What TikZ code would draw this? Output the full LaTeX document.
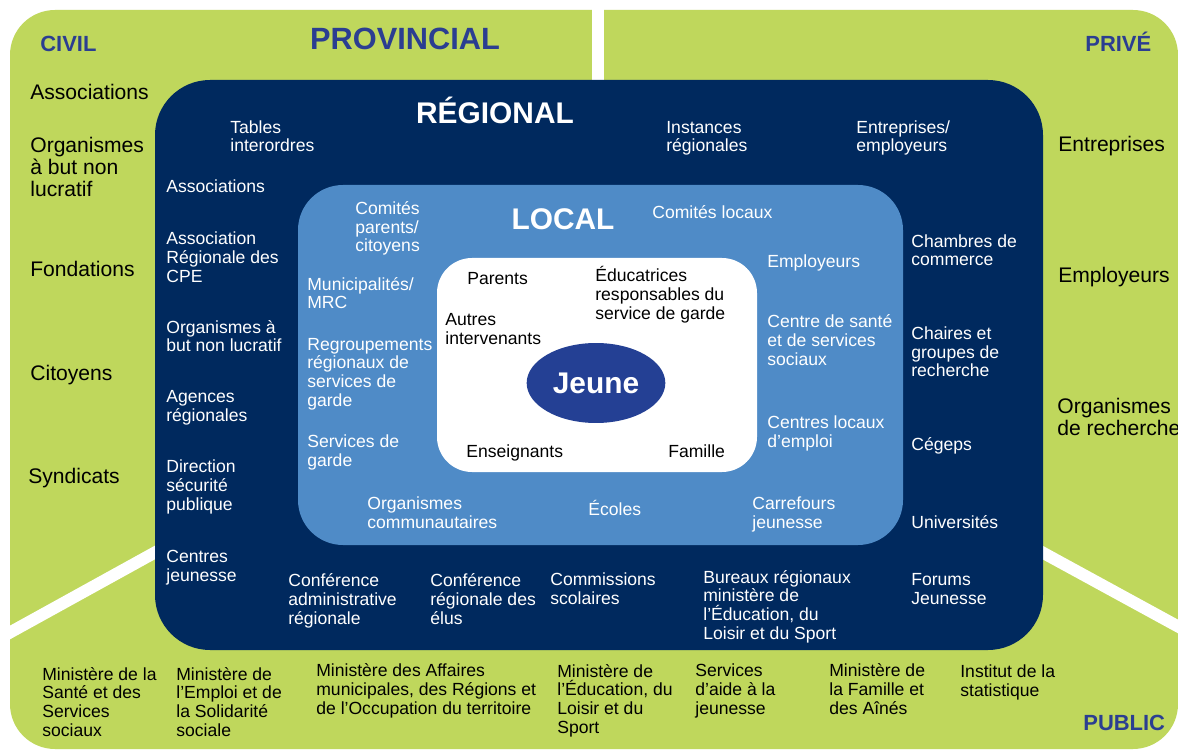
\documentclass[tikz,border=0pt]{standalone}
\usepackage{fontspec}
\setmainfont{Liberation Sans}
\usetikzlibrary{shapes.geometric}
\definecolor{lime}{RGB}{191,215,92}
\definecolor{navy}{RGB}{0,41,94}
\definecolor{sky}{RGB}{79,139,199}
\definecolor{ink}{RGB}{43,62,145}
\definecolor{jeune}{RGB}{36,64,148}
\begin{document}
\begin{tikzpicture}[x=0.02cm,y=-0.02cm]
 \tikzset{grn/.style={anchor=base west,inner sep=0,align=left,font=\fontsize{12}{12.5}\selectfont},
  wht/.style={anchor=base west,inner sep=0,align=left,text=white,font=\fontsize{10}{10.6}\selectfont},
  blk/.style={anchor=base west,inner sep=0,align=left,font=\fontsize{10}{10.6}\selectfont},
  lvl/.style={anchor=base,inner sep=0,font=\bfseries\fontsize{17}{17}\selectfont},
  sect/.style={anchor=base west,inner sep=0,text=ink,font=\bfseries\fontsize{12.5}{12.5}\selectfont}}
  \fill[white] (0,0) rectangle (1178,750);
  \useasboundingbox (0,0) rectangle (1178,750);
  % zones
  \fill[lime, rounded corners=0.9cm] (10,10) rectangle (1178,749);
  \draw[white, line width=0.24cm] (598,0) -- (598,120);
  \draw[white, line width=0.24cm] (0,638) -- (250,500);
  \draw[white, line width=0.24cm] (950,502) -- (1190,633);
  \fill[navy, rounded corners=1.1cm] (155,80) rectangle (1043,650);
  \fill[sky, rounded corners=0.9cm] (298,185) rectangle (903,545);
  \fill[white, rounded corners=0.7cm] (437,258) rectangle (757,472);
  \node[ellipse, fill=jeune, text=white, minimum width=2.76cm, minimum height=1.6cm,
    font=\bfseries\fontsize{17}{17}\selectfont] (J) at (596,383) {Jeune};
  % level titles
  \node[lvl, text=ink, font=\bfseries\fontsize{17.5}{17.5}\selectfont] (prov) at (405,50) {PROVINCIAL};
  \node[lvl, text=white] (reg) at (495,124) {RÉGIONAL};
  \node[lvl, text=white] (loc) at (563,230) {LOCAL};
  \node[sect] (civ) at (40,52) {CIVIL};
  \node[sect] (pri) at (1085,52) {PRIVÉ};
  \node[sect] (pub) at (1083,730) {PUBLIC};
  % civil (anchors on the last line)
  \node[grn] (c1) at (30,100) {Associations};
  \node[grn] (c2) at (30,196) {Organismes\\à but non\\lucratif};
  \node[grn] (c3) at (30,276) {Fondations};
  \node[grn] (c4) at (30,380) {Citoyens};
  \node[grn] (c5) at (28,483) {Syndicats};
  % prive
  \node[grn] (p1) at (1058,152) {Entreprises};
  \node[grn] (p2) at (1058,282) {Employeurs};
  \node[grn] (p3) at (1057,435) {Organismes\\de recherche};
  % regional
  \node[wht] (r1) at (230,152) {Tables\\interordres};
  \node[wht] (r2) at (666,152) {Instances\\régionales};
  \node[wht] (r3) at (856,152) {Entreprises/\\employeurs};
  \node[wht] (r4) at (166,193) {Associations};
  \node[wht] (r5) at (166,282) {Association\\Régionale des\\CPE};
  \node[wht] (r6) at (166,352) {Organismes à\\but non lucratif};
  \node[wht] (r7) at (166,421) {Agences\\régionales};
  \node[wht] (r8) at (166,510) {Direction\\sécurité\\publique};
  \node[wht] (r9) at (166,581) {Centres\\jeunesse};
  \node[wht] (r10) at (288,624) {Conférence\\administrative\\régionale};
  \node[wht] (r11) at (430,624) {Conférence\\régionale des\\élus};
  \node[wht] (r12) at (550,604) {Commissions\\scolaires};
  \node[wht] (r13) at (703,639) {Bureaux régionaux\\ministère de\\l’Éducation, du\\Loisir et du Sport};
  \node[wht] (r14) at (911,266) {Chambres de\\commerce};
  \node[wht] (r15) at (911,377) {Chaires et\\groupes de\\recherche};
  \node[wht] (r16) at (911,450) {Cégeps};
  \node[wht] (r17) at (911,528) {Universités};
  \node[wht] (r18) at (911,604) {Forums\\Jeunesse};
  % local
  \node[wht] (l1) at (355,252) {Comités\\parents/\\citoyens};
  \node[wht] (l2) at (652,218) {Comités locaux};
  \node[wht] (l3) at (307,309) {Municipalités/\\MRC};
  \node[wht] (l4) at (307,406) {Regroupements\\régionaux de\\services de\\garde};
  \node[wht] (l5) at (307,466) {Services de\\garde};
  \node[wht] (l6) at (367,528) {Organismes\\communautaires};
  \node[wht] (l7) at (588,515) {Écoles};
  \node[wht] (l8) at (752,528) {Carrefours\\jeunesse};
  \node[wht] (l9) at (767,268) {Employeurs};
  \node[wht] (l10) at (767,365) {Centre de santé\\et de services\\sociaux};
  \node[wht] (l11) at (767,447) {Centres locaux\\d’emploi};
  % entourage
  \node[blk] (e1) at (467,285) {Parents};
  \node[blk] (e2) at (595,319) {Éducatrices\\responsables du\\service de garde};
  \node[blk] (e3) at (445,344) {Autres\\intervenants};
  \node[blk] (e4) at (466,457) {Enseignants};
  \node[blk] (e5) at (668,457) {Famille};
  % public
  \node[blk] (m1) at (42,736) {Ministère de la\\Santé et des\\Services\\sociaux};
  \node[blk] (m2) at (176,736) {Ministère de\\l’Emploi et de\\la Solidarité\\sociale};
  \node[blk] (m3) at (316,714) {Ministère des Affaires\\municipales, des Régions et\\de l’Occupation du territoire};
  \node[blk] (m4) at (557,733) {Ministère de\\l’Éducation, du\\Loisir et du\\Sport};
  \node[blk] (m5) at (695,714) {Services\\d’aide à la\\jeunesse};
  \node[blk] (m6) at (829,714) {Ministère de\\la Famille et\\des Aînés};
  \node[blk] (m7) at (960,696) {Institut de la\\statistique};
\end{tikzpicture}
\end{document}
